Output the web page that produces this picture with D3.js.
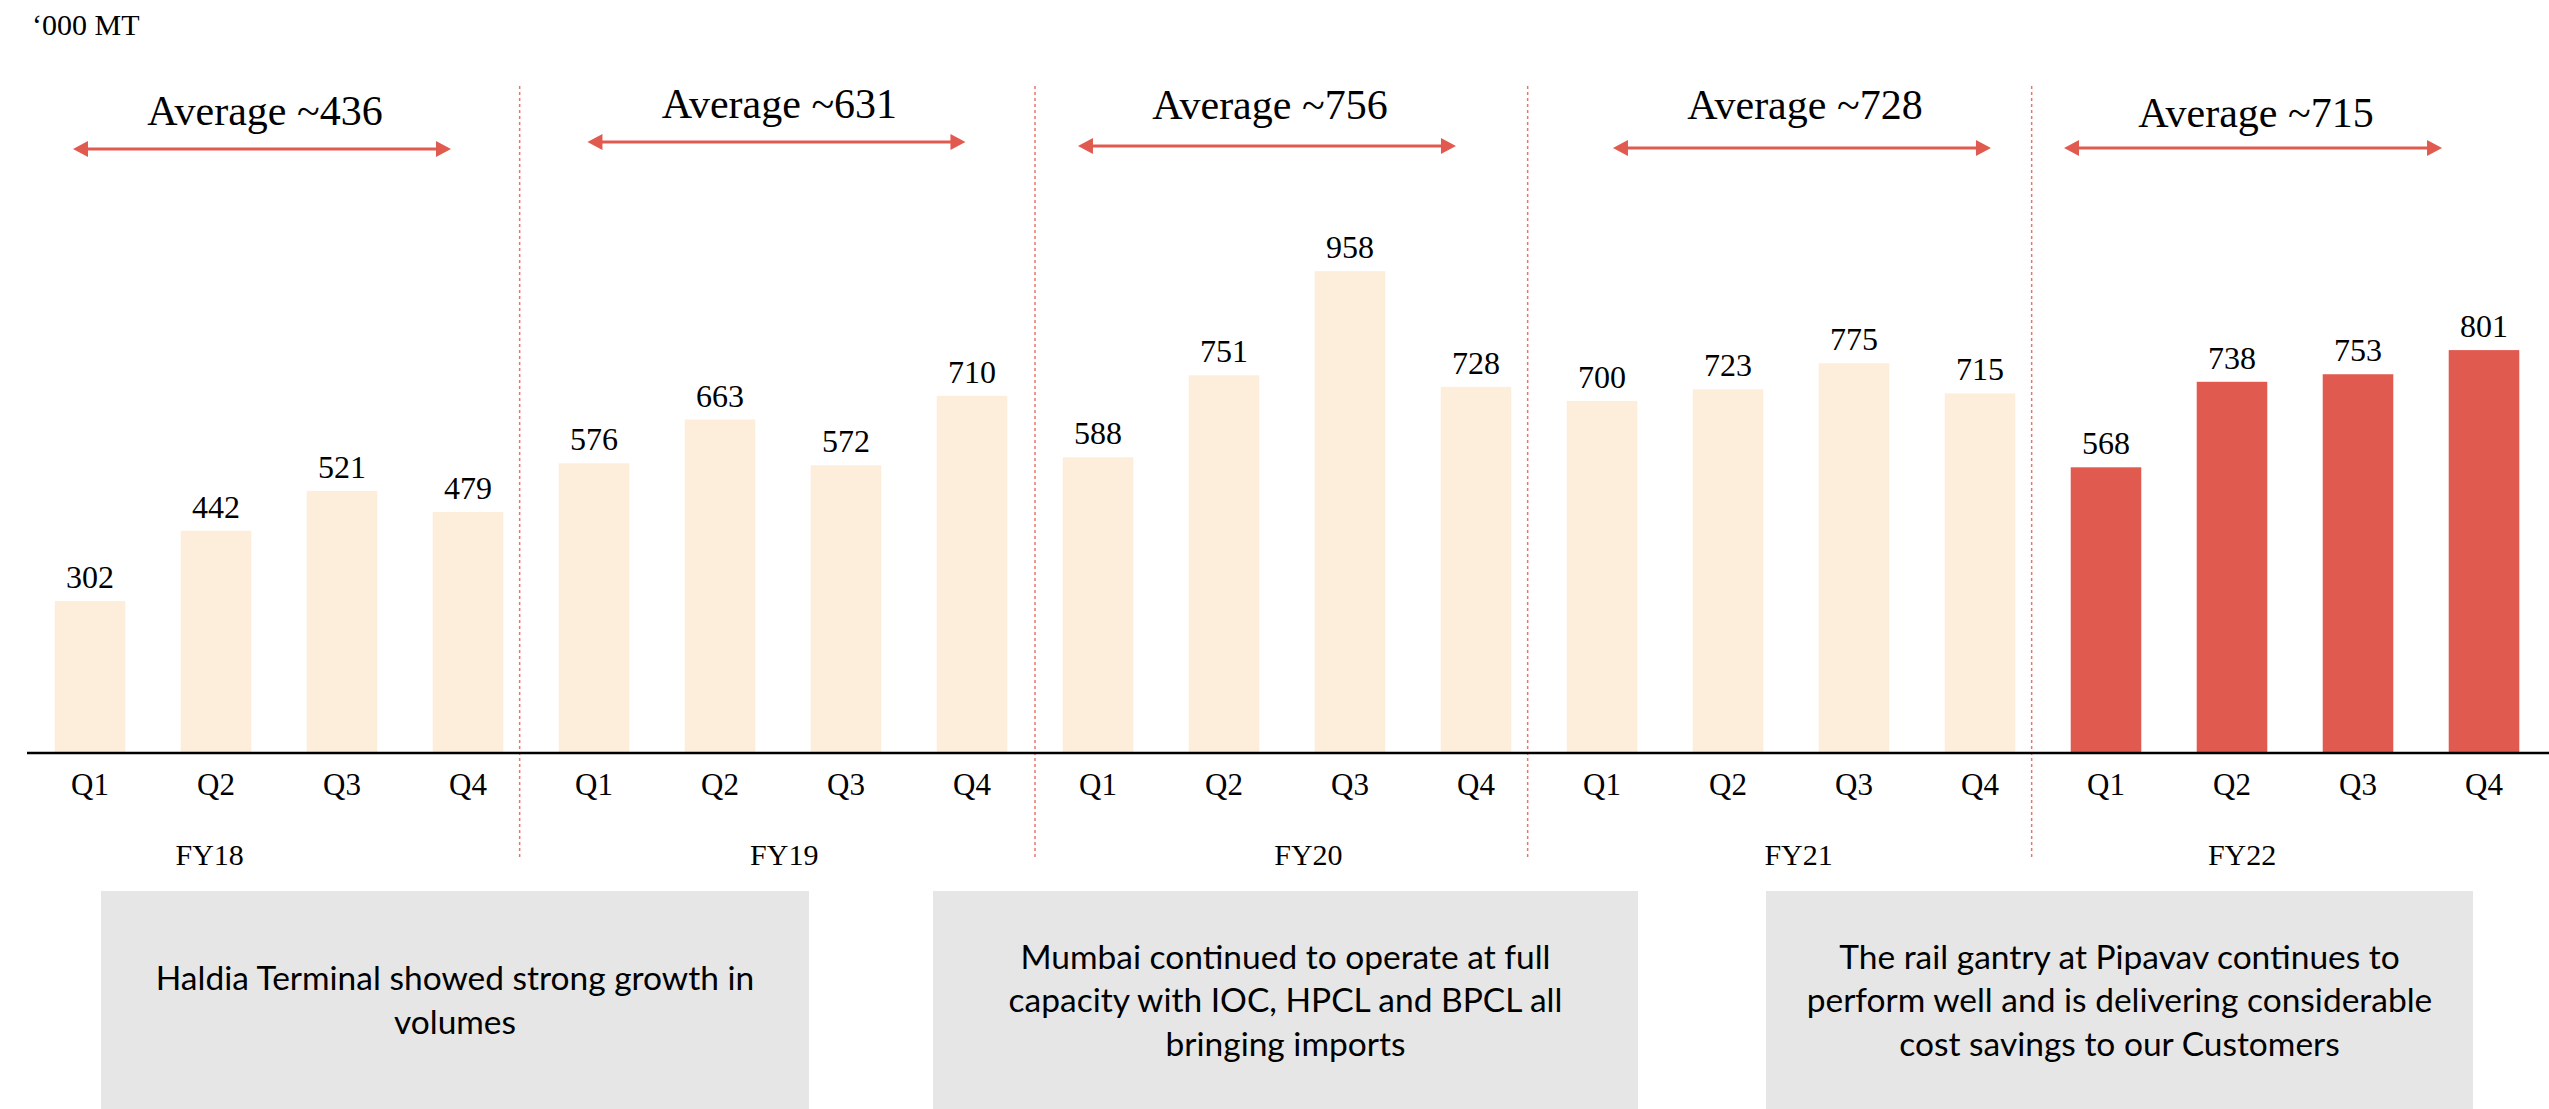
<!DOCTYPE html>
<html>
<head>
<meta charset="utf-8">
<script src="https://cdn.jsdelivr.net/npm/d3@7"></script>
<style>
  html, body { margin: 0; padding: 0; background: #ffffff; }
  svg { display: block; }
</style>
</head>
<body>
<div id="chart"></div>
<script>
// ---------------- DATA ----------------
const quarters = ["Q1", "Q2", "Q3", "Q4"];
const fiscalYears = ["FY18", "FY19", "FY20", "FY21", "FY22"];
const volumes = [
  302, 442, 521, 479,   // FY18
  576, 663, 572, 710,   // FY19
  588, 751, 958, 728,   // FY20
  700, 723, 775, 715,   // FY21
  568, 738, 753, 801    // FY22
];
const averages = [436, 631, 756, 728, 715];
const highlightYear = "FY22";
const unitLabel = "\u2018000 MT";
const notes = [
  ["Haldia Terminal showed strong growth in", "volumes"],
  ["Mumbai continued to operate at full", "capacity with IOC, HPCL and BPCL all", "bringing imports"],
  ["The rail gantry at Pipavav continues to", "perform well and is delivering considerable", "cost savings to our Customers"]
];

// ---------------- LAYOUT ----------------
const W = 2549, H = 1109;
const axisY = 753;
// annotation positions in "bar index" units (0 = first bar centre)
const avgCenter = [1.365, 5.448, 9.341, 13.587, 17.167];
const avgTextY = [125, 118, 119, 119, 127];
const avgArrowY = [149, 142, 146, 148, 148];
const fyLabelPos = [0.95, 5.51, 9.67, 13.56, 17.08];
const dividerPos = [3.41, 7.5, 11.41, 15.41];
const noteBoxes = [[101, 809], [933, 1638], [1766, 2473]];

const colLight = "#fdeedb";
const colRed = "#e15a50";
const serif = "'Liberation Serif', 'Times New Roman', serif";
const sans = "Lato, 'Open Sans', sans-serif";

const rows = volumes.map((v, i) => ({
  i, value: v,
  q: quarters[i % 4],
  fy: fiscalYears[Math.floor(i / 4)]
}));

const svg = d3.select("#chart").append("svg")
  .attr("width", W).attr("height", H);

const x = d3.scaleBand()
  .domain(d3.range(volumes.length))
  .range([27, 2547])
  .paddingInner(0.44)
  .paddingOuter(0.22);

const y = d3.scaleLinear().domain([0, 1000]).range([axisY, 250]);

const step = x.step();
const xAt = u => x(0) + x.bandwidth() / 2 + u * step;

// unit label
svg.append("text")
  .attr("x", 32).attr("y", 35)
  .attr("font-family", serif).attr("font-size", 30)
  .attr("fill", "#000")
  .text(unitLabel);

// dividers
svg.append("g").selectAll("line")
  .data(dividerPos)
  .join("line")
  .attr("x1", d => xAt(d)).attr("x2", d => xAt(d))
  .attr("y1", 86).attr("y2", 859)
  .attr("stroke", "#e8766c")
  .attr("stroke-width", 1.5)
  .attr("stroke-dasharray", "3,3");

// bars
svg.append("g").selectAll("rect")
  .data(rows)
  .join("rect")
  .attr("x", d => x(d.i))
  .attr("width", x.bandwidth())
  .attr("y", d => y(d.value))
  .attr("height", d => y(0) - y(d.value))
  .attr("fill", d => d.fy === highlightYear ? colRed : colLight);

// value labels
svg.append("g").selectAll("text")
  .data(rows)
  .join("text")
  .attr("x", d => x(d.i) + x.bandwidth() / 2)
  .attr("y", d => y(d.value) - 13)
  .attr("text-anchor", "middle")
  .attr("font-family", serif).attr("font-size", 32)
  .attr("fill", "#000")
  .text(d => d.value);

// x axis (baseline + quarter labels)
const xAxis = d3.axisBottom(x)
  .tickSize(0)
  .tickPadding(0)
  .tickFormat(i => rows[i].q);
const axG = svg.append("g")
  .attr("transform", `translate(0,${axisY})`)
  .call(xAxis);
axG.select(".domain").remove();
axG.selectAll("text")
  .attr("font-family", serif).attr("font-size", 31)
  .attr("fill", "#000")
  .attr("dy", null)
  .attr("y", 42);
svg.append("line")
  .attr("x1", 27).attr("x2", W)
  .attr("y1", axisY).attr("y2", axisY)
  .attr("stroke", "#000").attr("stroke-width", 2.6);

// fiscal year labels
svg.append("g").selectAll("text")
  .data(fiscalYears)
  .join("text")
  .attr("x", (d, i) => xAt(fyLabelPos[i]))
  .attr("y", 865)
  .attr("text-anchor", "middle")
  .attr("font-family", serif).attr("font-size", 30)
  .attr("fill", "#000")
  .text(d => d);

// average annotations
const avgG = svg.append("g").selectAll("g")
  .data(averages)
  .join("g");
avgG.append("text")
  .attr("x", (d, i) => xAt(avgCenter[i]) + 3)
  .attr("y", (d, i) => avgTextY[i])
  .attr("text-anchor", "middle")
  .attr("font-family", serif).attr("font-size", 42)
  .attr("fill", "#000")
  .text(d => `Average ~${d}`);
const half = 1.5 * step;
avgG.append("line")
  .attr("x1", (d, i) => xAt(avgCenter[i]) - half + 12)
  .attr("x2", (d, i) => xAt(avgCenter[i]) + half - 12)
  .attr("y1", (d, i) => avgArrowY[i])
  .attr("y2", (d, i) => avgArrowY[i])
  .attr("stroke", colRed).attr("stroke-width", 3.2);
avgG.append("path")
  .attr("d", (d, i) => {
    const c = xAt(avgCenter[i]), yy = avgArrowY[i];
    const l = c - half, r = c + half;
    return `M${l},${yy} L${l + 15},${yy - 8} L${l + 15},${yy + 8} Z ` +
           `M${r},${yy} L${r - 15},${yy - 8} L${r - 15},${yy + 8} Z`;
  })
  .attr("fill", colRed);

// note boxes
const noteG = svg.append("g").selectAll("g")
  .data(notes)
  .join("g");
noteG.append("rect")
  .attr("x", (d, i) => noteBoxes[i][0])
  .attr("width", (d, i) => noteBoxes[i][1] - noteBoxes[i][0])
  .attr("y", 891)
  .attr("height", H - 891)
  .attr("fill", "#e6e6e6");
noteG.each(function(lines, i) {
  const cx = (noteBoxes[i][0] + noteBoxes[i][1]) / 2;
  d3.select(this).selectAll("text")
    .data(lines)
    .join("text")
    .attr("x", cx)
    .attr("y", (d, k) => 1012 + 43.5 * (k - (lines.length - 1) / 2))
    .attr("text-anchor", "middle")
    .attr("font-family", sans).attr("font-size", 33.5)
    .attr("fill", "#000")
    .text(d => d);
});
</script>
</body>
</html>
